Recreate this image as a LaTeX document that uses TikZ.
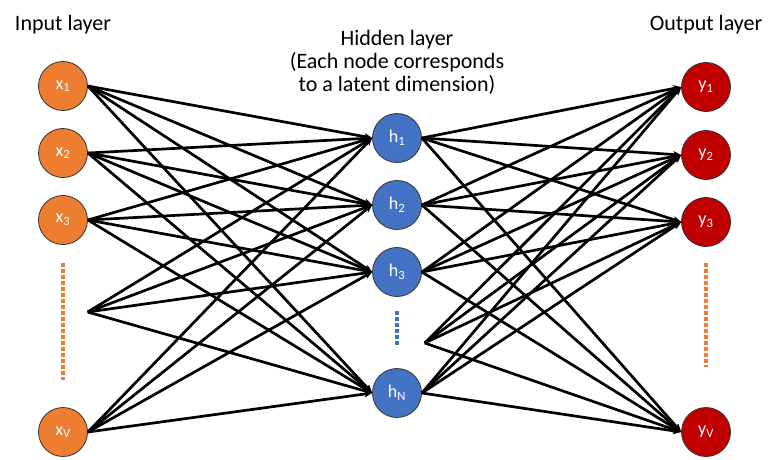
\documentclass[tikz,border=0pt]{standalone}
\usepackage{fontspec}
\setmainfont{Carlito}
\usetikzlibrary{arrows.meta}
\definecolor{NNOrange}{RGB}{237,125,49}
\definecolor{NNBlue}{RGB}{68,114,196}
\definecolor{NNRed}{RGB}{192,0,0}
\tikzset{
  unit/.style={circle, draw=black!80, line width=0.8pt, minimum size=49pt, inner sep=0pt, text=white, font=\fontsize{18}{18}\selectfont},
  ghost/.style={circle, minimum size=49pt, inner sep=0pt},
  link/.style={line width=2.7pt, -{Stealth[length=8pt,width=7pt]}},
  layertitle/.style={font=\fontsize{22}{23}\selectfont, align=center},
  dotline/.style={line width=4.5pt, dash pattern=on 4pt off 2pt}
}

\begin{document}
\begin{tikzpicture}[x=1pt, y=-1pt]
  \useasboundingbox (0,0) rectangle (768,459);
  % Layer titles
  \node[layertitle, anchor=base] (tin) at (63,30) {Input layer};
  \node[layertitle, anchor=north, inner sep=0pt] (thid) at (397,30) {Hidden layer\\(Each node corresponds\\to a latent dimension)};
  \node[layertitle, anchor=base] (tout) at (706,30) {Output layer};
  % Input units
  \node[unit, fill=NNOrange] (x1) at (63,86) {x\textsubscript{1}};
  \node[unit, fill=NNOrange] (x2) at (63,153) {x\textsubscript{2}};
  \node[unit, fill=NNOrange] (x3) at (63,220) {x\textsubscript{3}};
  \node[ghost] (xd) at (63,312) {};
  \node[unit, fill=NNOrange] (xV) at (63,432) {x\textsubscript{V}};
  % Hidden units
  \node[unit, fill=NNBlue] (h1) at (397,138) {h\textsubscript{1}};
  \node[unit, fill=NNBlue] (h2) at (397,205) {h\textsubscript{2}};
  \node[unit, fill=NNBlue] (h3) at (397,272) {h\textsubscript{3}};
  \node[ghost] (hd) at (400,343) {};
  \node[unit, fill=NNBlue] (hN) at (397,393) {h\textsubscript{N}};
  % Output units
  \node[unit, fill=NNRed] (y1) at (706,87) {y\textsubscript{1}};
  \node[unit, fill=NNRed] (y2) at (706,155) {y\textsubscript{2}};
  \node[unit, fill=NNRed] (y3) at (706,222) {y\textsubscript{3}};
  \node[unit, fill=NNRed] (yV) at (706,432) {y\textsubscript{V}};
  % Ellipsis dots
  \draw[dotline, NNOrange] (63,263) -- (63,380);
  \draw[dotline, NNBlue] (397,311) -- (397,347);
  \draw[dotline, NNOrange] (706,263) -- (706,367);
  % Connections
  \foreach \i in {x1,x2,x3,xd,xV}
    \foreach \j in {h1,h2,h3,hN}
      \draw[link] (\i.east) -- (\j.west);
  \foreach \i in {h1,h2,h3,hd,hN}
    \foreach \j in {y1,y2,y3,yV}
      \draw[link] (\i.east) -- (\j.west);
\end{tikzpicture}
\end{document}
